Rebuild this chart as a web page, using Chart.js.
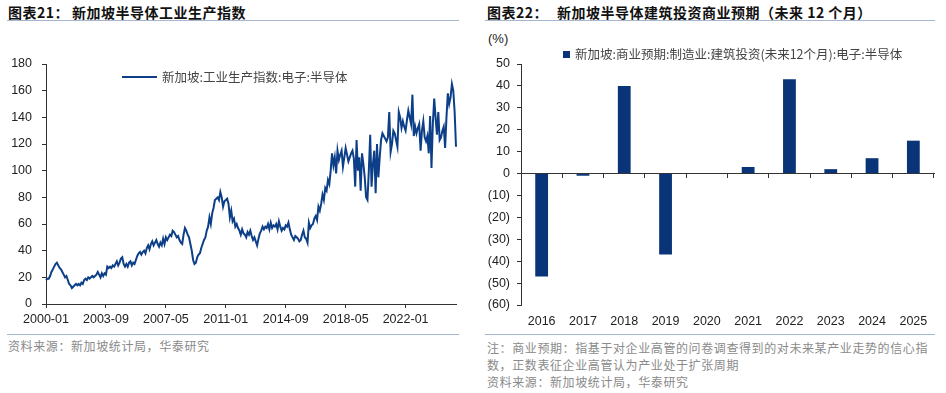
<!DOCTYPE html>
<html lang="zh">
<head>
<meta charset="UTF-8">
<title>新加坡半导体</title>
<script src="https://cdn.jsdelivr.net/npm/chart.js"></script>
<style>
  body { margin:0; width:946px; height:393px; background:#fff; position:relative; overflow:hidden;
         font-family:"Noto Sans CJK SC", "Liberation Sans", sans-serif; }
  .abs { position:absolute; white-space:nowrap; }
  .title { font-size:14px; line-height:20px; top:2px; font-weight:bold; color:#111; letter-spacing:0.5px; }
  .rule { position:absolute; height:0; border-top:1.5px solid #a4b6d0; }
  .note { font-size:12px; line-height:17px; color:#8a8a8a; letter-spacing:0.6px; }
  .legend { font-size:12.5px; line-height:16px; color:#444; }
  canvas { position:absolute; }
</style>
</head>
<body>
  <!-- left panel -->
  <div class="abs title" style="left:8px">图表21：</div>
  <div class="abs title" style="left:72px">新加坡半导体工业生产指数</div>
  <div class="rule" style="left:7px; width:452px; top:20px"></div>
  <canvas id="ipChart" width="466" height="300" style="left:0; top:30px"></canvas>
  <div class="abs" style="left:122px; top:76px; width:35px; height:2px; background:#0d3f88"></div>
  <div class="abs legend" style="left:162px; top:69px">新加坡:工业生产指数:电子:半导体</div>
  <div class="rule" style="left:7px; width:452px; top:334px; border-top-width:1px"></div>
  <div class="abs note" style="left:8px; top:337px">资料来源：新加坡统计局，华泰研究</div>

  <!-- right panel -->
  <div class="abs title" style="left:487px">图表22：</div>
  <div class="abs title" style="left:557px">新加坡半导体建筑投资商业预期（未来 12 个月）</div>
  <div class="rule" style="left:485px; width:450px; top:20px"></div>
  <div class="abs" style="left:488px; top:31px; font-family:'Liberation Sans'; font-size:13px; color:#222">(%)</div>
  <canvas id="bizChart" width="470" height="300" style="left:476px; top:30px"></canvas>
  <div class="abs" style="left:563px; top:51px; width:7px; height:7px; background:#0a3478"></div>
  <div class="abs legend" style="left:575px; top:46px">新加坡:商业预期:制造业:建筑投资(未来12个月):电子:半导体</div>
  <div class="rule" style="left:485px; width:450px; top:334px; border-top-width:1px"></div>
  <div class="abs note" style="left:487px; top:339px">注：商业预期：指基于对企业高管的问卷调查得到的对未来某产业走势的信心指</div>
  <div class="abs note" style="left:487px; top:356px">数，正数表征企业高管认为产业处于扩张周期</div>
  <div class="abs note" style="left:487px; top:373px">资料来源：新加坡统计局，华泰研究</div>

<script>
// monthly labels 2000-01 .. 2025-02
const monthLabels = [];
for (let y = 2000; y <= 2025; y++) {
  for (let m = 1; m <= 12; m++) {
    if (y === 2025 && m > 2) break;
    monthLabels.push(y + '-' + String(m).padStart(2, '0'));
  }
}

// 新加坡:工业生产指数:电子:半导体
const ipValues = [
  18, 19, 19, 21, 24, 26, 28, 30, 31, 29, 27, 26,
  24, 22, 20, 21, 18, 15, 14, 12, 13, 14, 15, 14,
  15, 14, 16, 15, 18, 19, 18, 20, 19, 20, 21, 20,
  21, 22, 24, 22, 20, 23, 21, 23, 22, 28, 27, 28,
  27, 29, 28, 30, 32, 29, 31, 34, 35, 30, 28, 30,
  28, 31, 32, 29, 31, 30, 33, 36, 38, 39, 37, 39,
  40, 38, 42, 44, 41, 45, 47, 44, 46, 48, 45, 43,
  46, 44, 49, 45, 50, 48, 50, 52, 51, 55, 54, 52,
  50, 51, 48, 46, 45, 52, 57, 55, 52, 50, 45, 40,
  33, 30, 31, 35, 37, 38, 42, 45, 48, 50, 55, 58,
  65, 60, 68, 72, 78, 79, 80, 78, 84, 80, 73, 77,
  78, 79, 75, 65, 70, 62, 64, 58, 60, 57, 55, 52,
  56, 53, 52, 50, 54, 52, 55, 51, 48, 50, 47, 44,
  49, 53, 55, 58, 56, 58, 57, 60, 56, 61, 57, 59,
  58, 60, 56, 62, 58, 55, 57, 56, 59, 58, 61, 56,
  52, 50, 48, 51, 50, 49, 47, 48, 52, 55, 50, 49,
  46, 61, 57, 59, 60, 64, 66, 63, 73, 70, 75, 82,
  78, 87, 85, 93, 90, 100, 113, 104, 110, 98, 115, 108,
  112, 115, 103, 110, 117, 112, 107, 110, 113, 115, 109, 88,
  123, 100, 110, 85, 113, 105, 95, 80, 78, 100, 127, 88,
  105, 115, 83, 120, 95, 110, 123, 128, 126, 124, 122, 125,
  144, 114, 120, 130, 128, 123, 118, 144, 140, 132, 137, 133,
  130, 138, 145, 140, 135, 157, 126, 133, 128, 132, 135, 115,
  130, 137, 125, 122, 126, 113, 141, 102, 135, 154, 140, 127,
  144, 123, 125, 130, 133, 117, 140, 158, 150, 155, 165, 160,
  144, 118
];
const ipTickEvery = 44;

// 新加坡:商业预期:制造业:建筑投资(未来12个月):电子:半导体
const years = ['2016', '2017', '2018', '2019', '2020', '2021', '2022', '2023', '2024', '2025'];
const bizValues = [-47, -1, 40, -37, 0, 3, 43, 2, 7, 15];

const numFont = { family: 'Liberation Sans', size: 12.5 };
const axisColor = '#333';

new Chart(document.getElementById('ipChart'), {
  type: 'line',
  data: {
    labels: monthLabels,
    datasets: [{
      label: '新加坡:工业生产指数:电子:半导体',
      data: ipValues,
      borderColor: '#0d3f88',
      borderWidth: 2,
      pointRadius: 0,
      tension: 0
    }]
  },
  options: {
    responsive: false,
    animation: false,
    layout: { padding: { top: 34, right: 10, left: 0, bottom: 0 } },
    plugins: { legend: { display: false }, tooltip: { enabled: false } },
    scales: {
      x: {
        grid: { drawOnChartArea: false, tickLength: 4, color: axisColor },
        border: { color: axisColor },
        ticks: {
          autoSkip: false, maxRotation: 0, padding: 4, font: numFont, color: '#222',
          callback: (v, i) => (i % ipTickEvery === 0 ? monthLabels[i] : null)
        },
        afterFit: s => { s.height = 26; }
      },
      y: {
        min: 0, max: 180,
        grid: { drawOnChartArea: false, tickLength: 4, color: axisColor },
        border: { color: axisColor },
        ticks: { stepSize: 20, padding: 10, font: numFont, color: '#222' },
        afterFit: s => { s.width = 46; }
      }
    }
  }
});

new Chart(document.getElementById('bizChart'), {
  type: 'bar',
  data: {
    labels: years,
    datasets: [{
      label: '新加坡:商业预期:制造业:建筑投资(未来12个月):电子:半导体',
      data: bizValues,
      backgroundColor: '#0a3478',
      categoryPercentage: 1,
      barPercentage: 0.31
    }]
  },
  options: {
    responsive: false,
    animation: false,
    layout: { padding: { top: 34, right: 12, left: 0, bottom: 0 } },
    plugins: { legend: { display: false }, tooltip: { enabled: false } },
    scales: {
      x: {
        grid: { display: false },
        border: { display: false },
        ticks: { padding: 1, font: numFont, color: '#222' },
        afterFit: s => { s.height = 25; }
      },
      xz: {
        type: 'category',
        labels: years,
        axis: 'x',
        position: { y: 0 },
        offset: true,
        grid: { offset: true, drawOnChartArea: false, tickLength: 4, color: axisColor },
        border: { color: axisColor },
        ticks: { display: false }
      },
      y: {
        min: -60, max: 50,
        grid: { drawOnChartArea: false, tickLength: 4, color: axisColor },
        border: { color: axisColor },
        ticks: {
          stepSize: 10, padding: 7, font: numFont, color: '#222',
          callback: v => (v < 0 ? '(' + (-v) + ')' : String(v))
        },
        afterFit: s => { s.width = 45; }
      }
    }
  }
});
</script>
</body>
</html>
